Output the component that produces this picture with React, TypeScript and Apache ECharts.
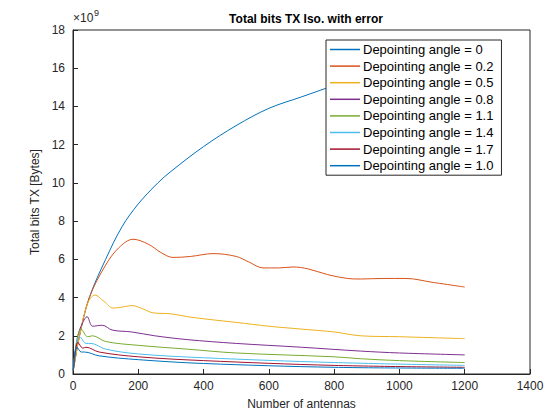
import React, { useEffect, useRef } from "react";
import * as echarts from "echarts";

const names = ["0", "0.2", "0.5", "0.8", "1.1", "1.4", "1.7", "1.0"];
const colors = ["#0072BD", "#D95319", "#EDB120", "#7E2F8E", "#77AC30", "#4DBEEE", "#A2142F", "#0072BD"];

// antenna counts and values (x 1e9 bytes) per series
const x0 = [1, 20, 50, 100, 150, 200, 260, 300, 400, 500, 600, 700, 800, 900, 1000, 1100, 1200];
const y0 = [0.2, 2, 4, 6, 7.7, 8.9, 10, 10.6, 11.9, 13, 13.9, 14.5, 15.1, 15.7, 16.2, 16.6, 17];
const x1 = [1, 20, 50, 100, 140, 184, 230, 270, 306, 360, 429, 500, 540, 582, 630, 674, 720, 780, 840, 880, 950, 1020, 1100, 1200];
const y1 = [0.2, 2, 4, 5.7, 6.6, 7.05, 6.8, 6.35, 6.1, 6.15, 6.3, 6.15, 5.85, 5.55, 5.55, 5.6, 5.5, 5.2, 5.0, 4.97, 5.0, 5.0, 4.8, 4.55];
const x2 = [1, 20, 45, 67, 95, 123, 150, 181, 215, 245, 300, 350, 420, 500, 600, 700, 800, 880, 1000, 1100, 1200];
const y2 = [0.2, 2, 3.7, 4.13, 3.8, 3.45, 3.5, 3.58, 3.4, 3.2, 3.15, 3.0, 2.85, 2.7, 2.5, 2.35, 2.2, 2.0, 1.95, 1.9, 1.85];
const x3 = [1, 15, 30, 43, 60, 90, 120, 180, 250, 350, 500, 700, 880, 1000, 1200];
const y3 = [0.2, 2, 2.7, 3.0, 2.5, 2.55, 2.3, 2.2, 2.0, 1.8, 1.6, 1.4, 1.2, 1.1, 1.0];
const x4 = [1, 12, 25, 45, 60, 100, 200, 350, 500, 800, 880, 1000, 1200];
const y4 = [0.2, 1.8, 2.35, 1.95, 2.0, 1.7, 1.5, 1.3, 1.1, 0.9, 0.8, 0.7, 0.6];
const x5 = [1, 10, 20, 40, 55, 100, 200, 400, 800, 1200];
const y5 = [0.2, 1.6, 1.95, 1.6, 1.6, 1.3, 1.05, 0.85, 0.6, 0.45];
const x6 = [1, 8, 15, 30, 40, 80, 200, 400, 800, 1200];
const y6 = [0.2, 1.3, 1.65, 1.35, 1.4, 1.15, 0.9, 0.7, 0.45, 0.35];
const x7 = [1, 6, 12, 25, 35, 80, 200, 400, 800, 1200];
const y7 = [0.2, 1.1, 1.4, 1.15, 1.15, 0.95, 0.75, 0.55, 0.35, 0.3];

const xs = [x0, x1, x2, x3, x4, x5, x6, x7];
const ys = [y0, y1, y2, y3, y4, y5, y6, y7];

const App = () => {
  const chartRef = useRef<HTMLDivElement>(null);

  useEffect(() => {
    if (!chartRef.current) return;
    const chart = echarts.init(chartRef.current, null, { renderer: "svg" });
    const axisText = { color: "#262626", fontSize: 12, fontFamily: "Liberation Sans" };

    chart.setOption({
      animation: false,
      backgroundColor: "#fff",
      textStyle: { fontFamily: "Liberation Sans" },
      title: {
        text: "Total bits TX Iso. with error",
        left: 301,
        top: 8,
        textAlign: "center",
        textStyle: { fontSize: 12, fontWeight: "bold", color: "#000" },
      },
      grid: {
        left: 73,
        right: 30,
        top: 30,
        bottom: 46,
        show: true,
        borderColor: "#262626",
        borderWidth: 1,
      },
      legend: {
        orient: "vertical",
        left: 326,
        top: 40,
        z: 50,
        data: names.map((n) => "Depointing angle = " + n),
        icon: "rect",
        itemWidth: 30,
        itemHeight: 1.5,
        itemGap: 3.6,
        backgroundColor: "#fff",
        borderColor: "#262626",
        borderWidth: 1,
        padding: [3, 8, 3, 4],
        textStyle: { fontSize: 13, color: "#000", padding: [0, 0, 0, -2] },
      },
      xAxis: {
        type: "value",
        min: 0,
        max: 1400,
        interval: 200,
        name: "Number of antennas",
        nameLocation: "middle",
        nameGap: 24,
        nameTextStyle: { ...axisText },
        axisLine: { lineStyle: { color: "#262626" } },
        axisTick: { inside: true, length: 5, lineStyle: { color: "#262626" } },
        axisLabel: { ...axisText, margin: 6, formatter: (v: number) => String(v) },
        splitLine: { show: false },
      },
      yAxis: {
        type: "value",
        min: 0,
        max: 18,
        interval: 2,
        name: "Total bits TX [Bytes]",
        nameLocation: "middle",
        nameGap: 26,
        nameTextStyle: { ...axisText },
        axisLine: { show: true, lineStyle: { color: "#262626" } },
        axisTick: { show: true, inside: true, length: 5, lineStyle: { color: "#262626" } },
        axisLabel: { ...axisText, margin: 8 },
        splitLine: { show: false },
      },
      graphic: [
        {
          type: "text",
          left: 73,
          top: 12,
          style: { text: "×10", fontSize: 12, fill: "#262626", fontFamily: "Liberation Sans" },
        },
        {
          type: "text",
          left: 94,
          top: 8,
          style: { text: "9", fontSize: 9, fill: "#262626", fontFamily: "Liberation Sans" },
        },
      ],
      series: names.map((n, i) => ({
        name: "Depointing angle = " + n,
        type: "line",
        smooth: 0.35,
        showSymbol: false,
        z: 2,
        lineStyle: { width: 1, color: colors[i] },
        itemStyle: { color: colors[i] },
        data: xs[i].map((x, j) => [x, ys[i][j]]),
      })),
    });

    return () => chart.dispose();
  }, []);

  return <div ref={chartRef} style={{ width: 560, height: 420, margin: -8 }} />;
};

export default App;
